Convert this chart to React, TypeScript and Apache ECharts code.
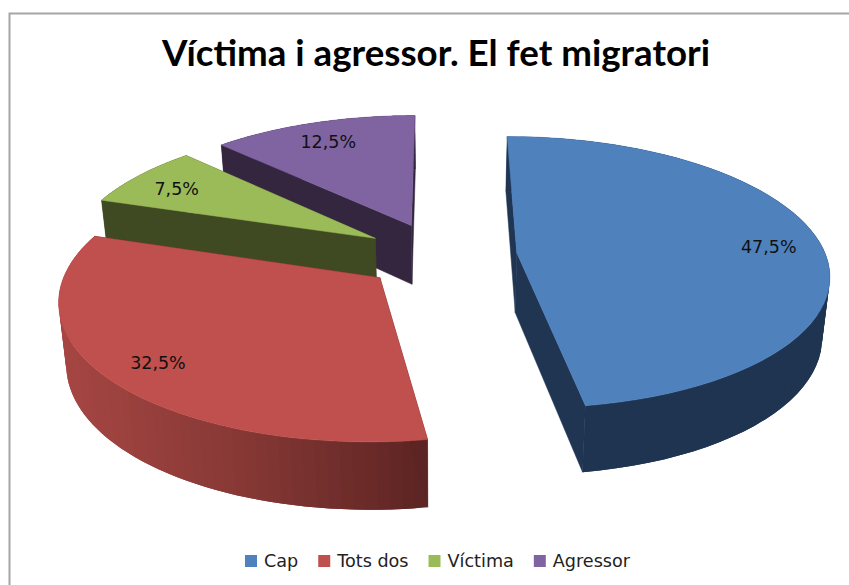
import React, { useEffect, useRef } from "react";
import * as echarts from "echarts";

const categories = ["Cap", "Tots dos", "Víctima", "Agressor"];
const values = [47.5, 32.5, 7.5, 12.5];
const topColors = ["#4F81BD", "#C0504D", "#9BBB59", "#8064A2"];
const sideColors = ["#1F3552", "#5C2422", "#3F4A22", "#35263F"];
// rim shade from the slice's right end (0) to its left end (1)
const rimStops: [number, string][][] = [
  [[0, "#1F3450"], [0.75, "#1F3450"], [1, "#2A4264"]],
  [[0, "#5C2422"], [0.5, "#863835"], [1, "#A64643"]],
  [[0, "#3F4A22"], [1, "#3F4A22"]],
  [[0, "#35263F"], [1, "#35263F"]],
];

const CX = 440, CY = 255.5, RX = 309, RY = 133.7, K = 0.143;
const EXPLODE = 0.25, DEPTH = 60, DEPTH_K = 0.1, BOTTOM_SCALE = 0.98, LABEL_R = 0.83;

const total = values.reduce((a, b) => a + b, 0);
const toRad = (pct: number) => (pct / total) * Math.PI * 2;
const project = (u: number, v: number, bottom: boolean) => {
  const d = 1 + K * v;
  const x = CX + (RX * u * (bottom ? BOTTOM_SCALE : 1)) / d;
  const y = CY - (RY * v) / d + (bottom ? DEPTH / (1 + DEPTH_K * v) : 0);
  return [x, y];
};
const hex = (c: string) => [1, 3, 5].map((i) => parseInt(c.slice(i, i + 2), 16));
const shade = (stops: [number, string][], t: number) => {
  for (let i = 1; i < stops.length; i++) {
    if (t <= stops[i][0]) {
      const f = (t - stops[i - 1][0]) / (stops[i][0] - stops[i - 1][0] || 1);
      const a = hex(stops[i - 1][1]);
      const b = hex(stops[i][1]);
      return `rgb(${a.map((x, j) => Math.round(x + (b[j] - x) * f)).join(",")})`;
    }
  }
  return stops[stops.length - 1][1];
};

function makeRender(index: number) {
  const before = values.slice(0, index).reduce((a, b) => a + b, 0);
  return (_params: any, api: any) => {
    const value = api.value(0);
    const a0 = toRad(before);
    const a1 = a0 + toRad(value);
    const mid = (a0 + a1) / 2;
    const eu = EXPLODE * Math.sin(mid);
    const ev = EXPLODE * Math.cos(mid);
    const steps = 60;
    const top: number[][] = [];
    const bot: number[][] = [];
    for (let i = 0; i <= steps; i++) {
      const t = a0 + ((a1 - a0) * i) / steps;
      const u = eu + Math.sin(t);
      const v = ev + Math.cos(t);
      top.push(project(u, v, false));
      bot.push(project(u, v, true));
    }
    const apexT = project(eu, ev, false);
    const apexB = project(eu, ev, true);
    const side = sideColors[index];
    const wall = (p: number[], q: number[]) => ({
      type: "polygon",
      shape: { points: [apexT, p, q, apexB] },
      style: { fill: side, stroke: side, lineWidth: 0.5 },
    });
    const xs = top.map((p) => p[0]);
    const xMin = Math.min(...xs);
    const xMax = Math.max(...xs);
    const rim: any[] = [];
    for (let i = 0; i < steps; i++) {
      const c = shade(rimStops[index], (xMax - (xs[i] + xs[i + 1]) / 2) / (xMax - xMin));
      const j = Math.min(i + 2, steps);
      // each band overlaps the next one, which paints over the shared edge, so no seam shows
      rim.push({
        type: "polygon",
        shape: { points: [top[i], top[i + 1], top[j], bot[j], bot[i + 1], bot[i]] },
        style: { fill: c },
      });
    }
    const [tx, ty] = project(eu + LABEL_R * Math.sin(mid), ev + LABEL_R * Math.cos(mid), false);
    return {
      type: "group",
      children: [
        ...rim,
        wall(top[0], bot[0]),
        wall(top[steps], bot[steps]),
        {
          type: "polygon",
          shape: { points: [apexT, ...top] },
          style: { fill: topColors[index], stroke: topColors[index], lineWidth: 0.5 },
        },
        {
          type: "text",
          x: tx,
          y: ty + 3,
          style: {
            text: String(value).replace(".", ",") + "%",
            fill: "#111",
            font: "17.5px 'DejaVu Sans'",
            align: "center",
            verticalAlign: "middle",
          },
        },
      ],
    };
  };
}

const depthOrder = (index: number) => {
  const before = values.slice(0, index).reduce((a, b) => a + b, 0);
  const mid = toRad(before) + toRad(values[index]) / 2;
  return Math.round(100 - Math.cos(mid) * 50);
};

export default function App() {
  const ref = useRef<HTMLDivElement>(null);
  useEffect(() => {
    const chart = echarts.init(ref.current!, undefined, { renderer: "svg" });
    chart.setOption({
      animation: false,
      backgroundColor: "#fff",
      color: topColors,
      title: {
        text: "Víctima i agressor. El fet migratori",
        left: 431,
        top: 28,
        textAlign: "center",
        textStyle: { fontFamily: "Lato", fontWeight: "bold", fontSize: 36.7, color: "#000" },
      },
      legend: {
        data: categories,
        left: 240,
        top: 547,
        icon: "rect",
        itemWidth: 12,
        itemHeight: 12,
        itemGap: 20,
        textStyle: { fontFamily: "DejaVu Sans", fontSize: 17.6, color: "#222", padding: [0, 0, 0, 2] },
      },
      graphic: [
        {
          type: "polyline",
          shape: { points: [[9.5, 585], [9.5, 13.5], [849, 13.5]] },
          style: { stroke: "#A6A6A6", lineWidth: 2, fill: "none" },
        },
      ],
      series: categories.map((name, i) => ({
        type: "custom",
        name,
        coordinateSystem: "none",
        z: depthOrder(i),
        renderItem: makeRender(i),
        data: [[values[i]]],
      })),
    });
    return () => chart.dispose();
  }, []);
  return <div ref={ref} style={{ position: "fixed", left: 0, top: 0, width: 849, height: 585 }} />;
}
